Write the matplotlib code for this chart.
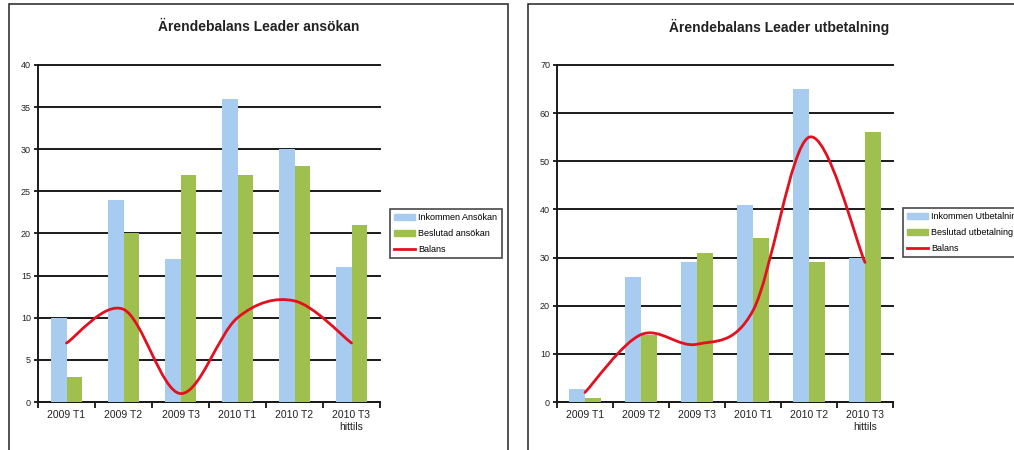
import numpy as np
import matplotlib.pyplot as plt
from matplotlib.path import Path
from matplotlib.patches import PathPatch, Rectangle
from matplotlib.lines import Line2D

plt.rcParams['font.family'] = ['Liberation Sans', 'DejaVu Sans']

categories = ['2009 T1', '2009 T2', '2009 T3', '2010 T1', '2010 T2', '2010 T3\nhittils']

# Leader ansökan
ans_inkommen = [10, 24, 17, 36, 30, 16]
ans_beslutad = [3, 20, 27, 27, 28, 21]
ans_balans = [7, 11, 1, 10, 12, 7]

# Leader utbetalning
utb_inkommen = [2.7, 26, 29, 41, 65, 30]
utb_beslutad = [0.8, 14, 31, 34, 29, 56]
utb_balans = [2, 14, 12, 19, 55, 29]

BLUE = '#a8ccf0'
GREEN = '#9fbf4f'
RED = '#e3101f'


def smooth_path(x, y):
    # Excel-like smoothed line: cubic bezier segments (Catmull-Rom style)
    pts = np.column_stack([x, y]).astype(float)
    n = len(pts)
    verts = [pts[0]]
    codes = [Path.MOVETO]
    for i in range(n - 1):
        p0 = pts[max(i - 1, 0)]
        p1 = pts[i]
        p2 = pts[i + 1]
        p3 = pts[min(i + 2, n - 1)]
        c1 = p1 + (p2 - p0) / 6.0
        c2 = p2 - (p3 - p1) / 6.0
        verts += [c1, c2, p2]
        codes += [Path.CURVE4] * 3
    return Path(verts, codes)


def draw_chart(ax, inkommen, beslutad, balans, ymax, step):
    x = np.arange(len(categories))
    w = 0.28
    ax.bar(x - w / 2, inkommen, w, color=BLUE, zorder=3)
    ax.bar(x + w / 2, beslutad, w, color=GREEN, zorder=3)
    ax.add_patch(PathPatch(smooth_path(x, balans), fill=False, edgecolor=RED,
                           lw=2, zorder=4, capstyle='round'))
    ax.set_xlim(-0.5, len(categories) - 0.5)
    ax.set_ylim(0, ymax)
    ax.set_yticks(np.arange(0, ymax + 1, step))
    ax.yaxis.grid(True, color='#1a1a1a', lw=1.4, zorder=1)
    for gl in ax.get_ygridlines():
        gl.set_clip_on(False)
    ax.set_axisbelow(True)
    ax.set_xticks(x)
    ax.set_xticklabels(categories, fontsize=7.5, color='#222222')
    ax.set_xticks(np.arange(-0.5, len(categories)), minor=True)
    ax.tick_params(axis='x', which='major', length=0, pad=6)
    ax.tick_params(axis='x', which='minor', length=4, width=1.2, direction='out')
    ax.tick_params(axis='y', length=3, width=1.2, labelsize=6.5, pad=2, labelcolor='#222222')
    for s in ['top', 'right']:
        ax.spines[s].set_visible(False)
    for s in ['left', 'bottom']:
        ax.spines[s].set_linewidth(1.4)
        ax.spines[s].set_color('#1a1a1a')


fig = plt.figure(figsize=(10.14, 4.5), dpi=100)
W, H = 1014.0, 450.0

# outer frames
fig.patches.append(Rectangle((9 / W, -0.02), 499 / W, 1.02 - 4 / H,
                             transform=fig.transFigure, fill=False, ec='#333333', lw=1.2))
fig.patches.append(Rectangle((528 / W, -0.02), 500 / W, 1.02 - 4 / H,
                             transform=fig.transFigure, fill=False, ec='#333333', lw=1.2))

ax1 = fig.add_axes([38 / W, 1 - 402 / H, 342 / W, 337 / H])
draw_chart(ax1, ans_inkommen, ans_beslutad, ans_balans, 40, 5)
ax2 = fig.add_axes([557 / W, 1 - 402 / H, 336 / W, 337 / H])
draw_chart(ax2, utb_inkommen, utb_beslutad, utb_balans, 70, 10)

fig.text(259 / W, 1 - 27 / H, 'Ärendebalans Leader ansökan', ha='center', va='center',
         fontsize=10, fontweight='bold', color='#222222')
fig.text(779 / W, 1 - 27 / H, 'Ärendebalans Leader utbetalning', ha='center', va='center',
         fontsize=10, fontweight='bold', color='#222222')


def legend_handles():
    return [Rectangle((0, 0), 1, 1, color=BLUE), Rectangle((0, 0), 1, 1, color=GREEN),
            Line2D([], [], color=RED, lw=2)]


leg_kw = dict(loc='upper left', fontsize=6.5, frameon=True, fancybox=False,
              edgecolor='#1a1a1a', handlelength=2.3, handleheight=0.6,
              labelspacing=0.75, borderpad=0.45, handletextpad=0.4, borderaxespad=0)
l1 = fig.legend(legend_handles(), ['Inkommen Ansökan', 'Beslutad ansökan', 'Balans'],
                bbox_to_anchor=(390 / W, 1 - 209 / H), **leg_kw)
l1.get_frame().set_linewidth(1.2)
l2 = fig.legend(legend_handles(), ['Inkommen Utbetalning', 'Beslutad utbetalning', 'Balans'],
                bbox_to_anchor=(903 / W, 1 - 208 / H), **leg_kw)
l2.get_frame().set_linewidth(1.2)

fig.savefig('out.png', dpi=100)
